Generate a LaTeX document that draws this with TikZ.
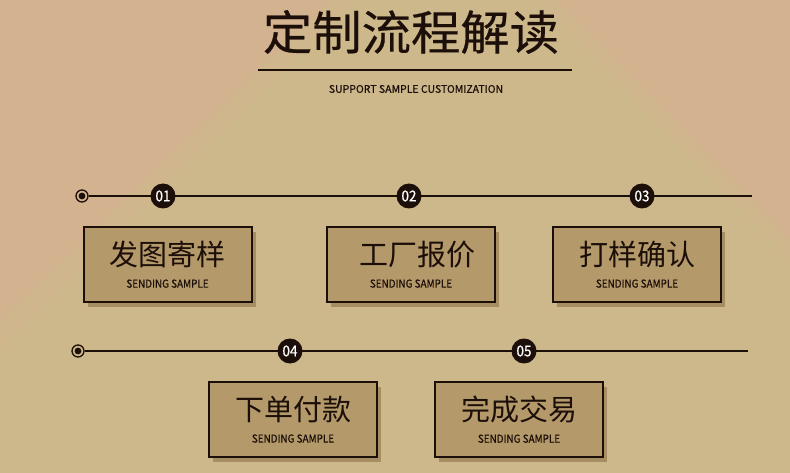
\documentclass[tikz,border=0pt]{standalone}
\usepackage{fontspec}
\setmainfont{Noto Sans CJK SC}
\newfontfamily\titlefont[FakeStretch=1.05,FakeBold=0.4]{Noto Sans CJK SC}
\newfontfamily\narrowfont[FakeStretch=0.9,FakeBold=0.6]{Noto Sans CJK SC}
\newfontfamily\subfont[FakeBold=0.5]{Noto Sans CJK SC}
\usepackage{tikz}
\usetikzlibrary{positioning,shadows}

\definecolor{bgpink}{RGB}{210,178,143}
\definecolor{bgsand}{RGB}{205,184,140}
\definecolor{boxfill}{RGB}{180,153,106}
\definecolor{ink}{RGB}{28,14,8}

\newcommand{\steptext}[1]{{\fontsize{29}{31}\selectfont #1}\\[10pt]{\narrowfont\fontsize{11}{11}\selectfont SENDING SAMPLE}}

\begin{document}
\begin{tikzpicture}[x=1pt, y=-1pt,
    stepbox/.style={draw=ink, line width=2pt, fill=boxfill, minimum width=168pt, minimum height=75pt,
        align=center, inner sep=0pt, text=ink,
        drop shadow={shadow xshift=4pt, shadow yshift=-5pt, fill=boxfill!92!black, opacity=1}},
    num/.style={circle, fill=ink, text=white, minimum size=25pt, inner sep=0pt,
        font=\narrowfont\fontsize{15}{15}\selectfont},
    marker/.style={circle, draw=ink, line width=1.3pt, minimum size=12pt, inner sep=0pt,
        path picture={\fill[ink] (path picture bounding box.center) circle (3.4pt);}},
    track/.style={draw=ink, line width=1.2pt}
]
\useasboundingbox (0,0) rectangle (790,473);
% background
\begin{scope}
\clip (0,0) rectangle (790,473);
\fill[bgpink] (0,0) rectangle (790,473);
\fill[bgsand!60!bgpink] (447,-113) -- (-40,360) -- (-40,473) -- (830,473) -- (830,280) -- cycle;
\fill[bgsand] (447,-93) -- (-30,380) -- (-30,473) -- (820,473) -- (820,290) -- cycle;
\end{scope}

% title
\node[text=ink, font=\titlefont\fontsize{47}{47}\selectfont] (title) at (411,32) {定制流程解读};
\coordinate (ruleL) at (258,70);
\coordinate (ruleR) at (572,70);
\draw[ink, line width=1.3pt] (ruleL) -- (ruleR);
\node[text=ink, font=\subfont\fontsize{10.5}{11}\selectfont] (subtitle) at (416,89) {SUPPORT SAMPLE CUSTOMIZATION};

% first row
\node[marker] (m1) at (82,196) {};
\coordinate (end1) at (752,196);
\draw[track] (m1) -- (end1);
\node[num] (n1) at (163,196) {01};
\node[num] (n2) at (409,196) {02};
\node[num] (n3) at (642,196) {03};

\node[stepbox] (s1) at (167.5,264.5) {\steptext{发图寄样}};
\node[stepbox] (s2) at (411,264.5) {\steptext{\hspace*{12pt}工厂报价}};
\node[stepbox] (s3) at (637,264.5) {\steptext{打样确认}};

% second row
\node[marker] (m2) at (78,351) {};
\coordinate (end2) at (748,351);
\draw[track] (m2) -- (end2);
\node[num] (n4) at (290,351) {04};
\node[num] (n5) at (524,351) {05};

\node[stepbox] (s4) at (293,419.5) {\steptext{下单付款}};
\node[stepbox] (s5) at (519,419.5) {\steptext{完成交易}};
\end{tikzpicture}
\end{document}
